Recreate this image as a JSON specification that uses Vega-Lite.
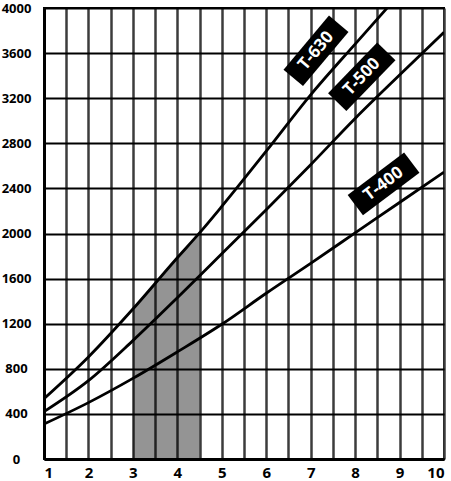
{
  "$schema": "https://vega.github.io/schema/vega-lite/v6.json",
  "autosize": "none",
  "width": 400,
  "height": 451,
  "padding": {"left": 44, "top": 8, "right": 7, "bottom": 22},
  "background": "white",
  "config": {
    "view": {"stroke": "black", "strokeWidth": 2},
    "axis": {"labelFont": "Open Sans", "labelFontWeight": "bold", "labelColor": "black", "title": null}
  },
  "datasets": {
    "curves": [
      {"series": "T-630", "x": 1, "y": 535},
      {"series": "T-630", "x": 2, "y": 905},
      {"series": "T-630", "x": 3, "y": 1330},
      {"series": "T-630", "x": 4, "y": 1785},
      {"series": "T-630", "x": 4.5, "y": 2005},
      {"series": "T-630", "x": 5, "y": 2240},
      {"series": "T-630", "x": 6, "y": 2730},
      {"series": "T-630", "x": 7, "y": 3230},
      {"series": "T-630", "x": 8, "y": 3680},
      {"series": "T-630", "x": 8.72, "y": 4000},
      {"series": "T-500", "x": 1, "y": 420},
      {"series": "T-500", "x": 2, "y": 695},
      {"series": "T-500", "x": 3, "y": 1050},
      {"series": "T-500", "x": 4, "y": 1430},
      {"series": "T-500", "x": 5, "y": 1820},
      {"series": "T-500", "x": 6, "y": 2210},
      {"series": "T-500", "x": 7, "y": 2610},
      {"series": "T-500", "x": 8, "y": 3020},
      {"series": "T-500", "x": 9, "y": 3405},
      {"series": "T-500", "x": 10, "y": 3785},
      {"series": "T-400", "x": 1, "y": 310},
      {"series": "T-400", "x": 2, "y": 500},
      {"series": "T-400", "x": 3, "y": 715},
      {"series": "T-400", "x": 4, "y": 950},
      {"series": "T-400", "x": 5, "y": 1195},
      {"series": "T-400", "x": 6, "y": 1470},
      {"series": "T-400", "x": 7, "y": 1735},
      {"series": "T-400", "x": 8, "y": 2005},
      {"series": "T-400", "x": 9, "y": 2275},
      {"series": "T-400", "x": 10, "y": 2545}
    ],
    "band": [
      {"x": 3, "y": 1330},
      {"x": 4, "y": 1785},
      {"x": 4.5, "y": 2005}
    ],
    "labels": [
      {"label": "T-630", "x": 7.12, "y": 3620},
      {"label": "T-500", "x": 8.15, "y": 3390},
      {"label": "T-400", "x": 8.64, "y": 2440}
    ]
  },
  "encoding": {
    "x": {
      "field": "x", "type": "quantitative",
      "scale": {"domain": [1, 10], "nice": false, "zero": false},
      "axis": {
        "values": [1, 1.5, 2, 2.5, 3, 3.5, 4, 4.5, 5, 5.5, 6, 6.5, 7, 7.5, 8, 8.5, 9, 9.5, 10],
        "labelExpr": "datum.value % 1 === 0 ? format(datum.value, 'd') : ''",
        "grid": true, "gridColor": "#3c3c3c", "gridWidth": 2.5,
        "ticks": false, "tickSize": 0,
        "domainColor": "black", "domainWidth": 3,
        "labelFontSize": 15, "labelPadding": 6
      }
    },
    "y": {
      "field": "y", "type": "quantitative",
      "scale": {"domain": [0, 4000], "nice": false},
      "axis": {
        "values": [0, 400, 800, 1200, 1600, 2000, 2400, 2800, 3200, 3600, 4000],
        "format": "d",
        "grid": true, "gridColor": "black", "gridWidth": 2,
        "ticks": false, "tickSize": 0,
        "domainColor": "black", "domainWidth": 3,
        "labelFontSize": 13, "labelAlign": "center", "labelPadding": 28
      }
    }
  },
  "layer": [
    {
      "data": {"name": "band"},
      "mark": {"type": "area", "color": "black", "opacity": 0.42, "interpolate": "monotone"},
      "encoding": {}
    },
    {
      "data": {"name": "curves"},
      "mark": {"type": "line", "color": "black", "strokeWidth": 2.8, "interpolate": "monotone", "clip": true},
      "encoding": {"detail": {"field": "series"}}
    },
    {
      "data": {"name": "labels"},
      "transform": [{"filter": "datum.label === 'T-630'"}],
      "layer": [
        {"mark": {"type": "point", "shape": "M-1,-0.36H1V0.36H-1Z", "size": 5000, "filled": true, "color": "black", "opacity": 1, "angle": -50}},
        {"mark": {"type": "text", "color": "white", "font": "Open Sans", "fontWeight": "bold", "fontSize": 17, "angle": -50, "align": "center", "baseline": "middle"}, "encoding": {"text": {"field": "label"}}}
      ]
    },
    {
      "data": {"name": "labels"},
      "transform": [{"filter": "datum.label === 'T-500'"}],
      "layer": [
        {"mark": {"type": "point", "shape": "M-1,-0.36H1V0.36H-1Z", "size": 5000, "filled": true, "color": "black", "opacity": 1, "angle": -46}},
        {"mark": {"type": "text", "color": "white", "font": "Open Sans", "fontWeight": "bold", "fontSize": 17, "angle": -46, "align": "center", "baseline": "middle"}, "encoding": {"text": {"field": "label"}}}
      ]
    },
    {
      "data": {"name": "labels"},
      "transform": [{"filter": "datum.label === 'T-400'"}],
      "layer": [
        {"mark": {"type": "point", "shape": "M-1,-0.36H1V0.36H-1Z", "size": 5000, "filled": true, "color": "black", "opacity": 1, "angle": -37}},
        {"mark": {"type": "text", "color": "white", "font": "Open Sans", "fontWeight": "bold", "fontSize": 17, "angle": -37, "align": "center", "baseline": "middle"}, "encoding": {"text": {"field": "label"}}}
      ]
    }
  ]
}
